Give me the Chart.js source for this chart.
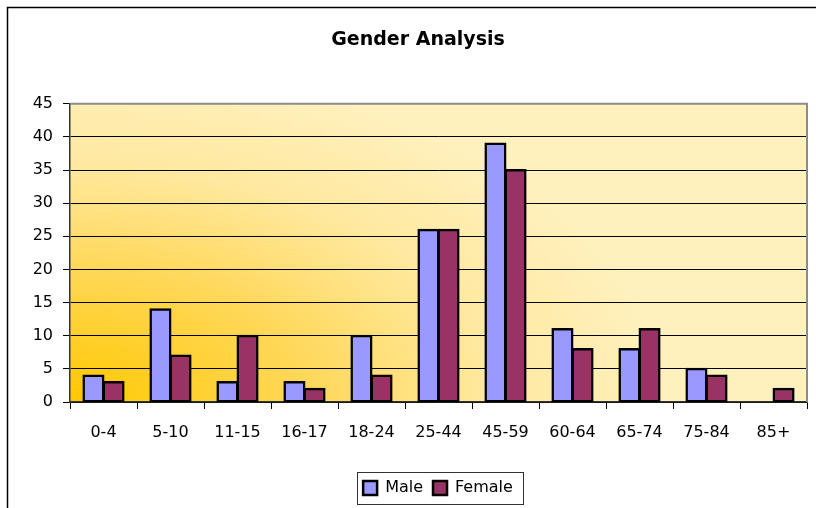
<!DOCTYPE html>
<html>
<head>
<meta charset="utf-8">
<script src="https://cdn.jsdelivr.net/npm/chart.js@4"></script>
<style>
  body { margin: 0; background: #fff; }
  #wrap { width: 816px; height: 508px; }
</style>
</head>
<body>
<div id="wrap"><canvas id="genderChart" width="816" height="508"></canvas></div>
<script>
const ageGroups = ["0-4", "5-10", "11-15", "16-17", "18-24", "25-44", "45-59", "60-64", "65-74", "75-84", "85+"];
const maleCounts = [4, 14, 3, 3, 10, 26, 39, 11, 8, 5, 0];
const femaleCounts = [3, 7, 10, 2, 4, 26, 35, 8, 11, 4, 2];
const yTicks = [0, 5, 10, 15, 20, 25, 30, 35, 40, 45];

const FONT = "'DejaVu Sans', Verdana, sans-serif";

// plot area fill, borders, legend box
const decor = {
  id: "decor",
  afterLayout(chart) {
    // legend sits a bit right of centre in the original
    const lg = chart.legend;
    lg.left += 20;
    lg.right += 20;
  },
  beforeDraw(chart) {
    const { ctx, chartArea: a } = chart;
    const rx = 600, ry = 340;
    ctx.save();
    ctx.beginPath();
    ctx.rect(a.left, a.top, a.right - a.left, a.bottom - a.top);
    ctx.clip();
    ctx.translate(a.left, a.bottom);
    ctx.scale(rx / ry, 1);
    const g = ctx.createRadialGradient(0, 0, 0, 0, 0, ry);
    g.addColorStop(0, "#FFC800");
    g.addColorStop(0.4, "#FFD85A");
    g.addColorStop(0.7, "#FFE9A0");
    g.addColorStop(1, "#FFF1BE");
    ctx.fillStyle = g;
    ctx.fillRect(0, -600, 1000, 700);
    ctx.restore();
  },
  beforeDatasetsDraw(chart) {
    const { ctx, chartArea: a } = chart;
    ctx.save();
    ctx.strokeStyle = "#8c8c8c";
    ctx.lineWidth = 2;
    ctx.beginPath();
    ctx.moveTo(a.left, a.top);
    ctx.lineTo(a.right, a.top);
    ctx.lineTo(a.right, a.bottom);
    ctx.stroke();
    ctx.restore();
  },
  afterDraw(chart) {
    const { ctx } = chart;
    ctx.save();
    ctx.strokeStyle = "#000";
    ctx.lineWidth = 1.5;
    ctx.strokeRect(7.5, 7.5, 900, 900);
    const boxes = chart.legend.legendHitBoxes;
    if (boxes && boxes.length) {
      const first = boxes[0], last = boxes[boxes.length - 1];
      const x0 = Math.round(first.left - 6) + 0.5;
      const x1 = Math.round(last.left + last.width + 10) + 0.5;
      const yc = first.top + first.height / 2;
      ctx.strokeStyle = "#333";
      ctx.lineWidth = 1;
      ctx.strokeRect(x0, Math.round(yc - 16) + 0.5, x1 - x0, 32);
    }
    ctx.restore();
  }
};

new Chart(document.getElementById("genderChart"), {
  type: "bar",
  data: {
    labels: ageGroups,
    datasets: [
      {
        label: "Male",
        data: maleCounts,
        backgroundColor: "#9999FF",
        borderColor: "#000",
        borderWidth: 2.5,
        borderSkipped: false,
        inflateAmount: 1
      },
      {
        label: "Female",
        data: femaleCounts,
        backgroundColor: "#993366",
        borderColor: "#000",
        borderWidth: 2.5,
        borderSkipped: false,
        inflateAmount: 1
      }
    ]
  },
  options: {
    responsive: false,
    animation: false,
    layout: { padding: { left: 29, right: 9, top: 0, bottom: 2 } },
    datasets: { bar: { categoryPercentage: 0.6, barPercentage: 1.0 } },
    plugins: {
      title: {
        display: true,
        text: "Gender Analysis",
        color: "#000",
        font: { family: FONT, size: 19, weight: "bold" },
        padding: { top: 29, bottom: 52 }
      },
      legend: {
        position: "bottom",
        labels: {
          color: "#000",
          font: { family: FONT, size: 16 },
          boxWidth: 14,
          boxHeight: 14,
          padding: 10
        }
      },
      tooltip: { enabled: false }
    },
    scales: {
      x: {
        afterFit(scale) { scale.height = 68; },
        grid: {
          offset: true,
          drawOnChartArea: false,
          color: "#000",
          tickLength: 7
        },
        border: { color: "#333", width: 1.5 },
        ticks: {
          color: "#000",
          font: { family: FONT, size: 16 },
          padding: 14,
          maxRotation: 0
        }
      },
      y: {
        min: 0,
        max: 45,
        afterFit(scale) { scale.width = 41; },
        afterBuildTicks(scale) { scale.ticks = yTicks.map(v => ({ value: v })); },
        grid: { color: "#000", tickLength: 7 },
        border: { color: "#333", width: 1.5 },
        ticks: {
          color: "#000",
          font: { family: FONT, size: 16 },
          padding: 10
        }
      }
    }
  },
  plugins: [decor]
});
</script>
</body>
</html>
